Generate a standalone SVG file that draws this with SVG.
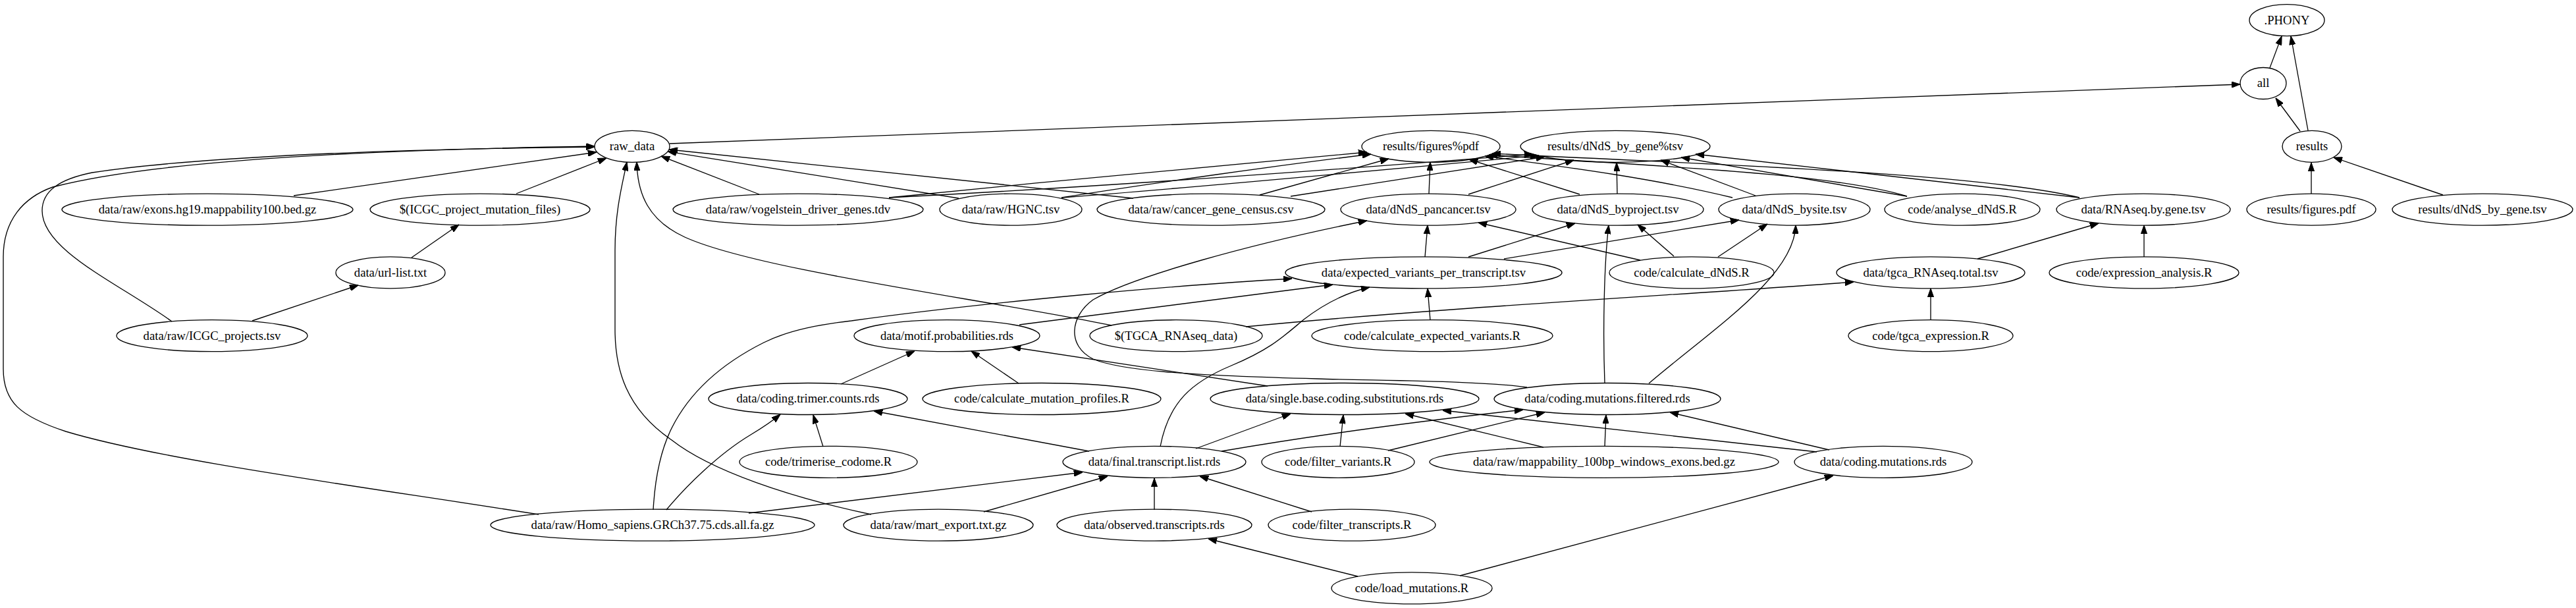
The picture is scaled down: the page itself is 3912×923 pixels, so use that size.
<svg xmlns="http://www.w3.org/2000/svg" width="3912" height="923" viewBox="0 0 3912 923">
<style>
.node ellipse{fill:none;stroke:#000;stroke-width:1.33}
.node text{font-family:"Liberation Serif","Times New Roman",serif;font-size:18.67px;text-anchor:middle;fill:#000}
#edges path{fill:none;stroke:#000;stroke-width:1.33;marker-end:url(#arr)}
</style>
<defs>
<marker id="arr" markerUnits="userSpaceOnUse" viewBox="0 0 13.4 9.4" markerWidth="13.4" markerHeight="9.4" refX="13.2" refY="4.7" orient="auto">
<path d="M0,0 L13.4,4.7 L0,9.4 z" fill="#000" stroke="#000" stroke-width="1"/>
</marker>
</defs>
<rect width="3912" height="923" fill="#fff"/>
<g id="edges">
<path d="M3447,103 L3465,55"/>
<path d="M3505,198 L3479,55"/>
<path d="M3493,199 L3456,149"/>
<path d="M1017,218 L3402,128"/>
<path d="M3510,294 L3510,247"/>
<path d="M3710,296 L3544,239"/>
<path d="M818,781 C560,740 250,700 100,655 C30,632 5,610 5,560 L5,390 C5,335 35,300 80,284 C250,240 600,227 903,222"/>
<path d="M261,488 C180,430 64,380 64,320 C64,290 90,272 140,262 C320,235 650,226 903,223"/>
<path d="M446,297 L906,231"/>
<path d="M784,294 L921,240"/>
<path d="M1323,781 C1200,755 1080,715 1020,668 C950,620 934,560 934,500 L934,380 C934,320 945,280 952,246"/>
<path d="M1688,494 C1500,455 1150,410 1040,360 C985,335 968,295 967,246"/>
<path d="M1153,295 L1004,237"/>
<path d="M1456,301 L1014,230"/>
<path d="M1721,301 L1016,227"/>
<path d="M625,391 L697,341"/>
<path d="M383,487 L544,433"/>
<path d="M1350,300 C1600,275 1900,246 2076,231"/>
<path d="M1612,300 C1750,278 1950,250 2082,234"/>
<path d="M1913,296 L2109,241"/>
<path d="M2170,294 L2172,246"/>
<path d="M2399,295 L2231,242"/>
<path d="M2631,300 C2500,268 2350,250 2255,237"/>
<path d="M2896,298 C2780,262 2500,252 2261,235"/>
<path d="M3158,300 C3000,262 2600,250 2266,233"/>
<path d="M1350,300 C1700,282 2100,252 2328,234"/>
<path d="M1612,300 C1800,286 2100,258 2337,236"/>
<path d="M1960,298 L2346,238"/>
<path d="M2230,295 L2390,243"/>
<path d="M2456,294 L2455,247"/>
<path d="M2666,297 L2522,243"/>
<path d="M2896,298 L2553,239"/>
<path d="M3158,300 L2575,234"/>
<path d="M2164,390 L2168,342"/>
<path d="M2491,395 L2245,338"/>
<path d="M2319,588 C2250,578 2100,578 2000,575 C1800,570 1700,562 1660,545 C1620,525 1625,480 1660,455 C1720,420 1900,370 2076,335"/>
<path d="M2230,390 L2392,339"/>
<path d="M2542,389 L2487,341"/>
<path d="M2437,582 C2434,500 2436,400 2443,342"/>
<path d="M2284,393 L2641,334"/>
<path d="M2609,390 L2684,340"/>
<path d="M2504,582 C2600,500 2725,420 2727,342"/>
<path d="M2172,486 L2168,438"/>
<path d="M992,774 C995,720 1005,680 1020,650 C1040,610 1080,560 1160,520 C1200,500 1250,492 1293,487 C1500,458 1800,432 1962,423"/>
<path d="M1548,493 L2024,432"/>
<path d="M1762,678 C1775,610 1810,580 1870,555 C1930,530 1950,510 1980,485 C2010,462 2045,444 2080,436"/>
<path d="M2932,486 L2932,438"/>
<path d="M1892,496 C2200,466 2600,445 2815,428"/>
<path d="M3256,390 L3256,342"/>
<path d="M3003,393 L3187,339"/>
<path d="M1277,583 L1389,533"/>
<path d="M1547,582 L1475,533"/>
<path d="M1925,586 L1537,527"/>
<path d="M1250,678 L1235,630"/>
<path d="M1012,774 C1040,740 1090,690 1140,660 C1160,648 1172,640 1185,629"/>
<path d="M1654,685 L1327,624"/>
<path d="M1816,681 L1960,628"/>
<path d="M2035,678 L2040,630"/>
<path d="M2344,679 L2134,628"/>
<path d="M2759,686 L2191,623"/>
<path d="M1855,685 C2000,660 2150,640 2313,622"/>
<path d="M2108,684 L2346,626"/>
<path d="M2437,678 L2439,630"/>
<path d="M2778,683 L2536,626"/>
<path d="M1137,779 L1644,717"/>
<path d="M1494,777 L1682,723"/>
<path d="M1753,774 L1753,726"/>
<path d="M1992,777 L1822,723"/>
<path d="M2062,875 L1835,818"/>
<path d="M2217,874 L2784,722"/>
</g>
<g id="n_phony" class="node"><ellipse cx="3473" cy="30.7" rx="57" ry="24"/><text x="3473" y="36.5">.PHONY</text></g>
<g id="n_all" class="node"><ellipse cx="3437" cy="126.5" rx="35" ry="24"/><text x="3437" y="132.3">all</text></g>
<g id="n_raw" class="node"><ellipse cx="960" cy="222.3" rx="57" ry="24"/><text x="960" y="228.1">raw_data</text></g>
<g id="n_figpct" class="node"><ellipse cx="2173" cy="222.3" rx="105" ry="24"/><text x="2173" y="228.1">results/figures%pdf</text></g>
<g id="n_genepct" class="node"><ellipse cx="2453" cy="222.3" rx="144" ry="24"/><text x="2453" y="228.1">results/dNdS_by_gene%tsv</text></g>
<g id="n_results" class="node"><ellipse cx="3511" cy="222.3" rx="45" ry="24"/><text x="3511" y="228.1">results</text></g>
<g id="n_exons" class="node"><ellipse cx="315" cy="318.1" rx="221" ry="24"/><text x="315" y="323.9">data/raw/exons.hg19.mappability100.bed.gz</text></g>
<g id="n_icgcmut" class="node"><ellipse cx="729" cy="318.1" rx="167" ry="24"/><text x="729" y="323.9">$(ICGC_project_mutation_files)</text></g>
<g id="n_vogel" class="node"><ellipse cx="1212" cy="318.1" rx="190" ry="24"/><text x="1212" y="323.9">data/raw/vogelstein_driver_genes.tdv</text></g>
<g id="n_hgnc" class="node"><ellipse cx="1535" cy="318.1" rx="108" ry="24"/><text x="1535" y="323.9">data/raw/HGNC.tsv</text></g>
<g id="n_cgc" class="node"><ellipse cx="1839" cy="318.1" rx="173" ry="24"/><text x="1839" y="323.9">data/raw/cancer_gene_census.csv</text></g>
<g id="n_pan" class="node"><ellipse cx="2169" cy="318.1" rx="133" ry="24"/><text x="2169" y="323.9">data/dNdS_pancancer.tsv</text></g>
<g id="n_byproj" class="node"><ellipse cx="2457" cy="318.1" rx="130" ry="24"/><text x="2457" y="323.9">data/dNdS_byproject.tsv</text></g>
<g id="n_bysite" class="node"><ellipse cx="2725" cy="318.1" rx="115" ry="24"/><text x="2725" y="323.9">data/dNdS_bysite.tsv</text></g>
<g id="n_analyse" class="node"><ellipse cx="2980" cy="318.1" rx="118" ry="24"/><text x="2980" y="323.9">code/analyse_dNdS.R</text></g>
<g id="n_rnaseq" class="node"><ellipse cx="3255" cy="318.1" rx="132" ry="24"/><text x="3255" y="323.9">data/RNAseq.by.gene.tsv</text></g>
<g id="n_figpdf" class="node"><ellipse cx="3510" cy="318.1" rx="98" ry="24"/><text x="3510" y="323.9">results/figures.pdf</text></g>
<g id="n_genetsv" class="node"><ellipse cx="3770" cy="318.1" rx="137" ry="24"/><text x="3770" y="323.9">results/dNdS_by_gene.tsv</text></g>
<g id="n_url" class="node"><ellipse cx="593" cy="413.9" rx="83" ry="24"/><text x="593" y="419.7">data/url-list.txt</text></g>
<g id="n_expvar" class="node"><ellipse cx="2162" cy="413.9" rx="210" ry="24"/><text x="2162" y="419.7">data/expected_variants_per_transcript.tsv</text></g>
<g id="n_calcdnds" class="node"><ellipse cx="2569" cy="413.9" rx="125" ry="24"/><text x="2569" y="419.7">code/calculate_dNdS.R</text></g>
<g id="n_tgcatotal" class="node"><ellipse cx="2932" cy="413.9" rx="143" ry="24"/><text x="2932" y="419.7">data/tgca_RNAseq.total.tsv</text></g>
<g id="n_exprR" class="node"><ellipse cx="3256" cy="413.9" rx="144" ry="24"/><text x="3256" y="419.7">code/expression_analysis.R</text></g>
<g id="n_icgcproj" class="node"><ellipse cx="322" cy="509.7" rx="145" ry="24"/><text x="322" y="515.5">data/raw/ICGC_projects.tsv</text></g>
<g id="n_motif" class="node"><ellipse cx="1438" cy="509.7" rx="141" ry="24"/><text x="1438" y="515.5">data/motif.probabilities.rds</text></g>
<g id="n_tgcadata" class="node"><ellipse cx="1786" cy="509.7" rx="131" ry="24"/><text x="1786" y="515.5">$(TGCA_RNAseq_data)</text></g>
<g id="n_calcexp" class="node"><ellipse cx="2175" cy="509.7" rx="183" ry="24"/><text x="2175" y="515.5">code/calculate_expected_variants.R</text></g>
<g id="n_tgcaexpr" class="node"><ellipse cx="2932" cy="509.7" rx="125" ry="24"/><text x="2932" y="515.5">code/tgca_expression.R</text></g>
<g id="n_trimer" class="node"><ellipse cx="1227" cy="605.5" rx="151" ry="24"/><text x="1227" y="611.3">data/coding.trimer.counts.rds</text></g>
<g id="n_calcmut" class="node"><ellipse cx="1582" cy="605.5" rx="181" ry="24"/><text x="1582" y="611.3">code/calculate_mutation_profiles.R</text></g>
<g id="n_sbs" class="node"><ellipse cx="2042" cy="605.5" rx="204" ry="24"/><text x="2042" y="611.3">data/single.base.coding.substitutions.rds</text></g>
<g id="n_filtered" class="node"><ellipse cx="2441" cy="605.5" rx="172" ry="24"/><text x="2441" y="611.3">data/coding.mutations.filtered.rds</text></g>
<g id="n_trimR" class="node"><ellipse cx="1258" cy="701.3" rx="135" ry="24"/><text x="1258" y="707.1">code/trimerise_codome.R</text></g>
<g id="n_final" class="node"><ellipse cx="1753" cy="701.3" rx="139" ry="24"/><text x="1753" y="707.1">data/final.transcript.list.rds</text></g>
<g id="n_filtvar" class="node"><ellipse cx="2032" cy="701.3" rx="116" ry="24"/><text x="2032" y="707.1">code/filter_variants.R</text></g>
<g id="n_mapp" class="node"><ellipse cx="2436" cy="701.3" rx="265" ry="24"/><text x="2436" y="707.1">data/raw/mappability_100bp_windows_exons.bed.gz</text></g>
<g id="n_codmut" class="node"><ellipse cx="2860" cy="701.3" rx="135" ry="24"/><text x="2860" y="707.1">data/coding.mutations.rds</text></g>
<g id="n_homo" class="node"><ellipse cx="991" cy="797.1" rx="246" ry="24"/><text x="991" y="802.9">data/raw/Homo_sapiens.GRCh37.75.cds.all.fa.gz</text></g>
<g id="n_mart" class="node"><ellipse cx="1425" cy="797.1" rx="144" ry="24"/><text x="1425" y="802.9">data/raw/mart_export.txt.gz</text></g>
<g id="n_obs" class="node"><ellipse cx="1753" cy="797.1" rx="148" ry="24"/><text x="1753" y="802.9">data/observed.transcripts.rds</text></g>
<g id="n_filttr" class="node"><ellipse cx="2053" cy="797.1" rx="127" ry="24"/><text x="2053" y="802.9">code/filter_transcripts.R</text></g>
<g id="n_load" class="node"><ellipse cx="2144" cy="892.9" rx="122" ry="24"/><text x="2144" y="898.7">code/load_mutations.R</text></g>
</svg>
